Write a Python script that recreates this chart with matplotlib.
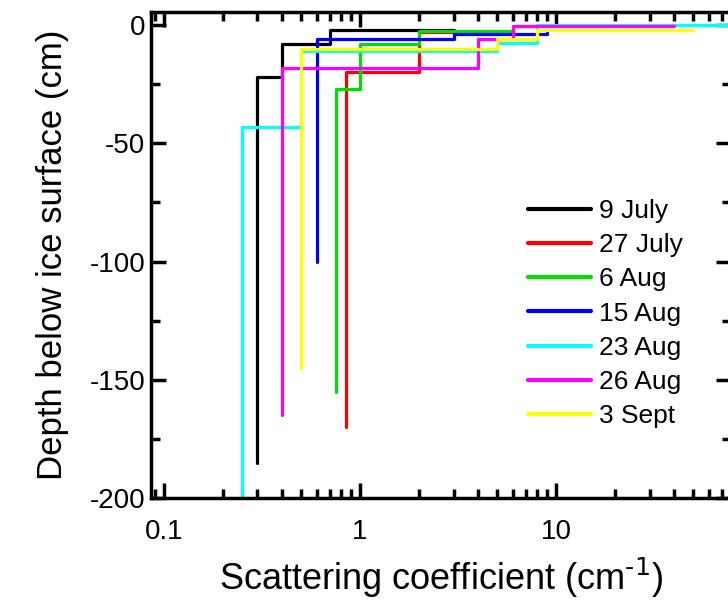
import matplotlib
matplotlib.use('Agg')
import matplotlib.pyplot as plt
from matplotlib.ticker import MultipleLocator, LogLocator, FixedLocator, FixedFormatter

plt.rcParams['font.family'] = ['Liberation Sans', 'DejaVu Sans']
plt.rcParams['axes.unicode_minus'] = False

# step profiles: scattering coefficient (cm^-1) vs depth (cm)
labels = ['9 July', '27 July', '6 Aug', '15 Aug', '23 Aug', '26 Aug', '3 Sept']
colors = ['#000000', '#ff0000', '#00e000', '#0000ff', '#00ffff', '#ff00ff', '#ffff00']

jul09_x = [0.3, 0.3, 0.4, 0.4, 0.7, 0.7, 3]
jul09_y = [-185, -22, -22, -8, -8, -2, -2]
jul27_x = [0.85, 0.85, 2, 2, 3]
jul27_y = [-170, -20, -20, -3, -3]
aug06_x = [0.75, 0.75, 1, 1, 2, 2, 6, 6, 8]
aug06_y = [-155, -27, -27, -8, -8, -2.5, -2.5, -0.5, -0.5]
aug15_x = [0.6, 0.6, 3, 3, 9, 9]
aug15_y = [-100, -6, -6, -4, -4, -3]
aug23_x = [0.25, 0.25, 0.5, 0.5, 5, 5, 8, 8, 100]
aug23_y = [-200, -43, -43, -11, -11, -7.5, -7.5, 0, 0]
aug26_x = [0.4, 0.4, 4, 4, 6, 6, 40]
aug26_y = [-165, -18, -18, -6, -6, -0.5, -0.5]
sep03_x = [0.5, 0.5, 5, 5, 8, 8, 50]
sep03_y = [-145, -10, -10, -6, -6, -2, -2]

series_x = [jul09_x, jul27_x, aug06_x, aug15_x, aug23_x, aug26_x, sep03_x]
series_y = [jul09_y, jul27_y, aug06_y, aug15_y, aug23_y, aug26_y, sep03_y]

xticks = [0.1, 1, 10]
xticklabels = ['0.1', '1', '10']
yticks = [0, -50, -100, -150, -200]

fig = plt.figure(figsize=(7.28, 6.06), dpi=100)
ax = fig.add_axes([151 / 728, 108 / 606, 580 / 728, 486 / 606])

for xs, ys, lab, col in zip(series_x, series_y, labels, colors):
    ax.plot(xs, ys, color=col, lw=2.3, label=lab, solid_capstyle='round')

ax.set_xscale('log')
ax.set_xlim(0.0859, 78)
ax.set_ylim(-200, 5.5)

ax.xaxis.set_major_locator(FixedLocator(xticks))
ax.xaxis.set_major_formatter(FixedFormatter(xticklabels))
ax.xaxis.set_minor_locator(LogLocator(base=10, subs=range(2, 10)))
ax.yaxis.set_major_locator(FixedLocator(yticks))
ax.yaxis.set_minor_locator(MultipleLocator(25))

for sp in ax.spines.values():
    sp.set_linewidth(2.5)

ax.tick_params(which='both', direction='in', top=True, right=True, width=2.5)
ax.tick_params(which='major', length=11, labelsize=20)
ax.tick_params(which='minor', length=6.5)
ax.tick_params(axis='x', which='major', pad=15)
ax.tick_params(axis='y', which='major', pad=4)

ax.set_xlabel('Scattering coefficient (cm$^{\\text{-1}}$)', fontsize=26, labelpad=8)
ax.set_ylabel('Depth below ice surface (cm)', fontsize=25, labelpad=15)

leg = ax.legend(loc='upper left', bbox_to_anchor=(0.65, 0.615), frameon=False,
                fontsize=19, handlelength=2.4, handletextpad=0.28,
                labelspacing=0.385, borderpad=0, borderaxespad=0)
for line in leg.get_lines():
    line.set_linewidth(3)

fig.savefig('out.png', dpi=100)
